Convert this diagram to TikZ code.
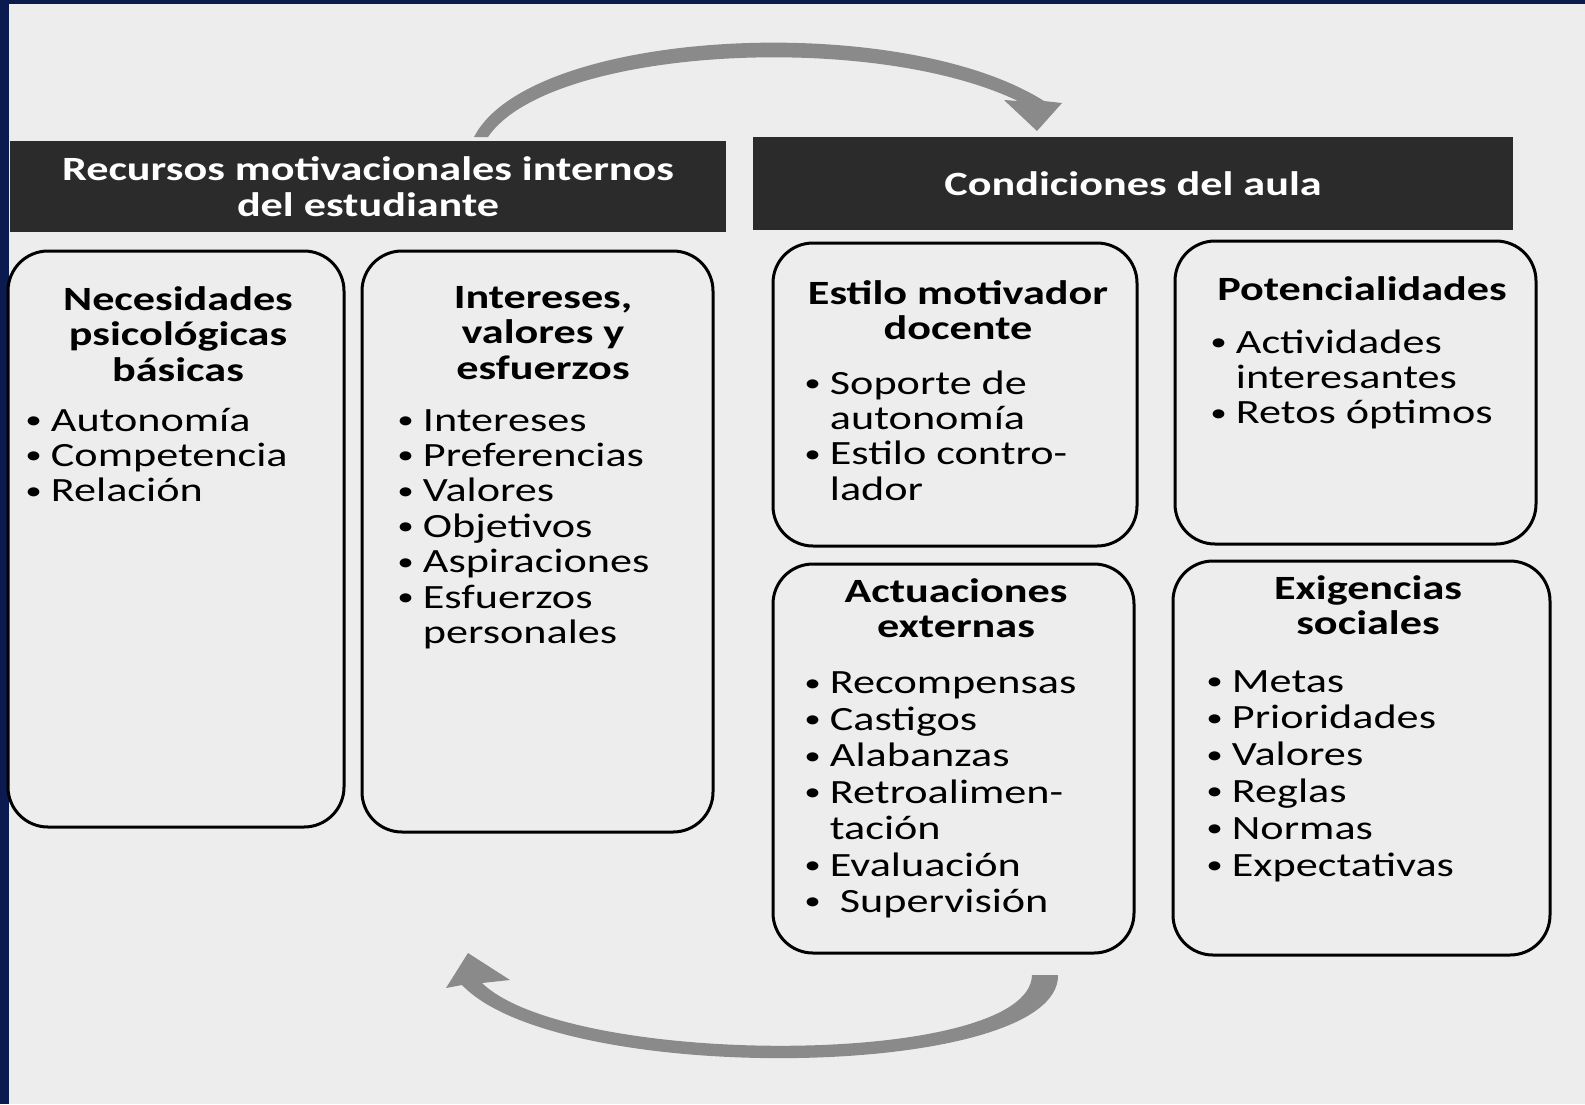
\documentclass[tikz,border=0pt]{standalone}
\usepackage{fontspec}
\setmainfont{Carlito}[FakeStretch=1.3]
\usetikzlibrary{calc}
\definecolor{pagina}{HTML}{EDEDED}
\definecolor{franja}{HTML}{0B1A4F}
\definecolor{flecha}{HTML}{8A8A8A}
\definecolor{oscuro}{HTML}{2B2B2B}
\newcommand*{\letra}{\fontsize{17}{17.7}\selectfont}
\newcommand*{\punto}{\raisebox{0.08em}{\scalebox{0.75}{•}}}
\tikzset{
  caja/.style={draw=black, line width=1.5pt, rounded corners=20pt, inner sep=0pt},
  barra/.style={fill=oscuro, text=white, font=\letra\bfseries, align=center, inner sep=0pt},
  titulo/.style={font=\letra\bfseries, align=center, anchor=north, inner sep=0pt},
  lista/.style={font=\letra, anchor=north west, inner sep=0pt},
}
\newenvironment{puntos}[1][1]{\renewcommand{\arraystretch}{#1}\begin{tabular}{@{}l@{\hspace{4.5pt}}l@{}}}{\end{tabular}}

\begin{document}
\begin{tikzpicture}[x=0.5pt, y=-0.5pt]
    \fill [pagina] (0,0) rectangle (1585,1104);
    \useasboundingbox (0,0) rectangle (1585,1104);
    \fill [franja] (0,0) rectangle (9,1104);
    \fill [franja] (0,0) rectangle (1585,4);

    \node [barra, minimum width=358pt, minimum height=45.5pt] (recursos)    at (368,186.5)  {Recursos motivacionales internos\\del estudiante};
    \node [barra, minimum width=380pt, minimum height=46.5pt] (condiciones) at (1133,183.5) {Condiciones del aula};

    \node [caja, minimum width=168pt,   minimum height=288pt]   (necesidades)  at (176,539)     {};
    \node [caja, minimum width=175.5pt, minimum height=290.5pt] (intereses)    at (537.5,541.5) {};
    \node [caja, minimum width=182pt,   minimum height=151.5pt] (estilo)       at (955,394.5)   {};
    \node [caja, minimum width=180.5pt, minimum height=151.5pt] (potencial)    at (1355.5,392.5) {};
    \node [caja, minimum width=180.5pt, minimum height=194.5pt] (actuaciones)  at (953.5,758.5) {};
    \node [caja, minimum width=188.5pt, minimum height=197pt]   (exigencias)   at (1361.5,758)  {};

    \node [titulo] (tnec) at (178,286)  {Necesidades\\psicológicas\\básicas};
    \node [titulo] (tint) at (543,286)  {Intereses,\\valores y\\esfuerzos};
    \node [titulo] (test) at (958,280)  {Estilo motivador\\docente};
    \node [titulo] (tpot) at (1362,276) {Potencialidades};
    \node [titulo] (tact) at (956,578)  {Actuaciones\\externas};
    \node [titulo] (texi) at (1368,575) {Exigencias\\sociales};

    \node [lista] (lnec) at (25,406) {\begin{puntos}
        \punto & Autonomía\\ \punto & Competencia\\ \punto & Relación
    \end{puntos}};
    \node [lista] (lint) at (397,406) {\begin{puntos}
        \punto & Intereses\\ \punto & Preferencias\\ \punto & Valores\\ \punto & Objetivos\\ \punto & Aspiraciones\\ \punto & Esfuerzos\\ & personales
    \end{puntos}};
    \node [lista] (lest) at (804,369) {\begin{puntos}
        \punto & Soporte de\\ & autonomía\\ \punto & Estilo contro-\\ & lador
    \end{puntos}};
    \node [lista] (lpot) at (1210,328) {\begin{puntos}
        \punto & Actividades\\ & interesantes\\ \punto & Retos óptimos
    \end{puntos}};
    \node [lista] (lact) at (804,668) {\begin{puntos}[1.03]
        \punto & Recompensas\\ \punto & Castigos\\ \punto & Alabanzas\\ \punto & Retroalimen-\\ & tación\\ \punto & Evaluación\\ \punto & \ Supervisión
    \end{puntos}};
    \node [lista] (lexi) at (1206,666) {\begin{puntos}[1.04]
        \punto & Metas\\ \punto & Prioridades\\ \punto & Valores\\ \punto & Reglas\\ \punto & Normas\\ \punto & Expectativas
    \end{puntos}};

    \coordinate (colaA)  at (481,137);
    \coordinate (puntaA) at (1037,131);
    \coordinate (colaB)  at (1045,975);
    \coordinate (puntaB) at (468,953);
    \fill [flecha] (474,137) .. controls (530,28) and (900,10) .. (1044,101) -- (1062,103) -- (puntaA)
        -- (1004,100) -- (1018,101) .. controls (870,30) and (548,48) .. (488,137) -- cycle;
    \fill [flecha] (1058,975) .. controls (1060,1080) and (560,1088) .. (462,985) -- (446,988) -- (puntaB)
        -- (510,980) -- (482,983) .. controls (570,1068) and (1030,1068) .. (1032,975) -- cycle;
\end{tikzpicture}
\end{document}
